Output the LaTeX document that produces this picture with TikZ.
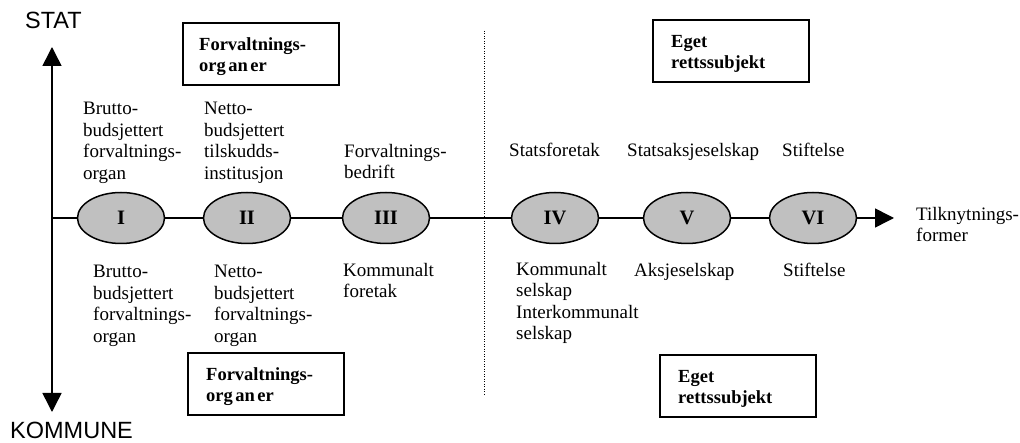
\documentclass[tikz,border=0pt]{standalone}
\usepackage{fontspec}
\setmainfont{Liberation Serif}
\newfontfamily\arialfont{Liberation Sans}
\usetikzlibrary{arrows.meta,shapes.geometric}
\definecolor{ellgray}{RGB}{192,192,192}
\begin{document}
\begin{tikzpicture}[x=1pt,y=-1pt,
  lbl/.style={anchor=north west,inner sep=0pt,align=left,font=\fontsize{19}{21.5}\selectfont},
  axislbl/.style={anchor=north west,inner sep=0pt,font=\arialfont\fontsize{23.5}{26}\selectfont},
  num/.style={ellipse,draw,line width=1.5pt,fill=ellgray,minimum width=87pt,minimum height=51pt,inner sep=0pt,font=\fontsize{20.5}{22}\selectfont\bfseries},
  boxr/.style={draw,line width=1.7pt,anchor=north west,inner sep=0pt,minimum width=156pt,minimum height=62pt},
  boxtxt/.style={anchor=north west,inner sep=0pt,align=left,font=\fontsize{18.5}{21}\selectfont\bfseries},
  conn/.style={line width=1.5pt},
  arr/.style={line width=1.5pt,-{Triangle[length=19pt,width=19pt]}}
]
\useasboundingbox (0,0) rectangle (1020,443);

% axes
\coordinate (o) at (52,218);
\coordinate (top) at (52,47);
\coordinate (bot) at (52,412);
\coordinate (rend) at (894,218);
\draw[arr] (o) -- (top);
\draw[arr] (o) -- (bot);
\node[axislbl] (stat) at (25,12) {STAT};
\node[axislbl] (kom) at (10,422) {KOMMUNE};

% dotted separator
\coordinate (dtop) at (484,31);
\coordinate (dbot) at (484,394);
\draw[line width=1pt,dash pattern=on 1pt off 1.5pt] (dtop) -- (dbot);

% ellipses
\node[num] (I) at (121,218) {I};
\node[num] (II) at (247,218) {II};
\node[num] (III) at (386,218) {III};
\node[num] (IV) at (555,218) {IV};
\node[num] (V) at (687,218) {V};
\node[num] (VI) at (813,218) {VI};

\draw[conn] (o) -- (I);
\draw[conn] (I) -- (II);
\draw[conn] (II) -- (III);
\draw[conn] (III) -- (IV);
\draw[conn] (IV) -- (V);
\draw[conn] (V) -- (VI);
\draw[arr] (VI) -- (rend);

% upper labels
\node[lbl] (u1) at (83,102) {Brutto-\\budsjettert\\forvaltnings-\\organ};
\node[lbl] (u2) at (204,102) {Netto-\\budsjettert\\tilskudds-\\institusjon};
\node[lbl] (u3) at (344,144) {Forvaltnings-\\bedrift};
\node[lbl] (u4) at (509,143) {Statsforetak};
\node[lbl] (u5) at (627,143) {Statsaksjeselskap};
\node[lbl] (u6) at (782,143) {Stiftelse};

% lower labels
\node[lbl] (l1) at (93,265) {Brutto-\\budsjettert\\forvaltnings-\\organ};
\node[lbl] (l2) at (214,265) {Netto-\\budsjettert\\forvaltnings-\\organ};
\node[lbl] (l3) at (343,263) {Kommunalt\\foretak};
\node[lbl] (l4) at (516,262) {Kommunalt\\selskap\\Interkommunalt\\selskap};
\node[lbl] (l5) at (634,263) {Aksjeselskap};
\node[lbl] (l6) at (783,263) {Stiftelse};
\node[lbl] (tf) at (916,207) {Tilknytnings-\\former};

% boxes
\node[boxr] (b1) at (182,22) {};
\node[boxtxt] (b1t) at ([xshift=17pt,yshift=-15pt]b1.north west) {Forvaltnings-\\org\hspace{2.5pt}an\hspace{2.5pt}er};
\node[boxr] (b2) at (187,352) {};
\node[boxtxt] (b2t) at ([xshift=19pt,yshift=-15pt]b2.north west) {Forvaltnings-\\org\hspace{2.5pt}an\hspace{2.5pt}er};
\node[boxr] (b3) at (652,19) {};
\node[boxtxt] (b3t) at ([xshift=19pt,yshift=-16pt]b3.north west) {Eget\\rettssubjekt};
\node[boxr] (b4) at (659,354) {};
\node[boxtxt] (b4t) at ([xshift=19pt,yshift=-16pt]b4.north west) {Eget\\rettssubjekt};
\end{tikzpicture}
\end{document}
